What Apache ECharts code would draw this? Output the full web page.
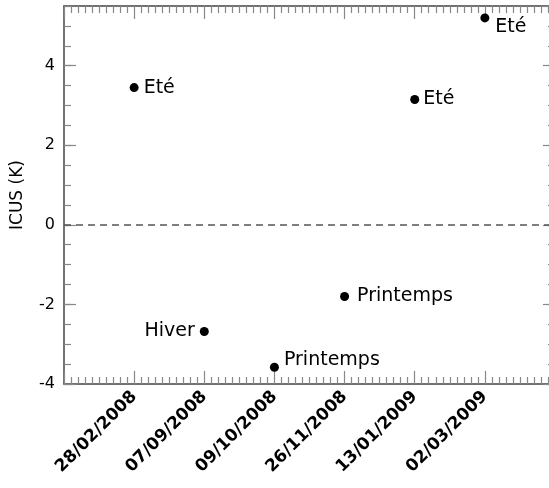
<!DOCTYPE html>
<html><head><meta charset="utf-8">
<script src="https://cdn.jsdelivr.net/npm/echarts@6/dist/echarts.min.js"></script>
<style>html,body{margin:0;padding:0;background:#fff;overflow:hidden;width:549px;height:488px}#c{width:562px;height:488px}</style>
</head><body><div id="c"></div>
<script>
const categories = ['28/02/2008','07/09/2008','09/10/2008','26/11/2008','13/01/2009','02/03/2009'];
const icusValues = [3.45, -2.68, -3.58, -1.8, 3.15, 5.2];
const seasons = ['Eté','Hiver','Printemps','Printemps','Eté','Eté'];
const yTickLabels = [-4, -2, 0, 2, 4];

const FONT = 'DejaVu Sans';
const axisLineStyle = {color:'#444', width:1.5};
const tickStyle = {color:'#888', width:1.2};

function xAx(pos, showLabel){
  return {type:'value', min:0, max:7, interval:1, position:pos,
    axisLine:{show:true, onZero:false, lineStyle:axisLineStyle},
    axisTick:{show:true, inside:true, length:13, lineStyle:tickStyle},
    minorTick:{show:true, splitNumber:10, length:7, lineStyle:tickStyle},
    splitLine:{show:false}, minorSplitLine:{show:false},
    axisLabel:{show:showLabel, rotate:45, margin:10, color:'#000', fontFamily:FONT, fontSize:17, fontWeight:'bold',
      formatter: v => { const i = Math.round(v); return (i>=1 && i<=categories.length) ? categories[i-1] : ''; }}
  };
}
function yMajor(pos, showLabel){
  return {type:'value', min:-4, max:5.5, interval:2, position:pos,
    axisLine:{show:true, onZero:false, lineStyle:axisLineStyle},
    axisTick:{show:true, inside:true, length:12, lineStyle:tickStyle},
    splitLine:{show:false},
    name: showLabel ? 'ICUS (K)' : '', nameLocation:'middle', nameGap:38, nameRotate:90,
    nameTextStyle:{fontFamily:FONT, fontSize:17, color:'#000'},
    axisLabel:{show:showLabel, showMaxLabel:false, margin:9, color:'#000', fontFamily:FONT, fontSize:16,
      formatter: v => yTickLabels.indexOf(v) >= 0 ? String(v) : ''}
  };
}
function yMinor(pos){
  return {type:'value', min:-4, max:5.5, interval:0.5, position:pos,
    axisLine:{show:false, onZero:false},
    axisTick:{show:true, inside:true, length:7, lineStyle:tickStyle},
    splitLine:{show:false}, axisLabel:{show:false}
  };
}

const labelStyles = [
  {position:'right', distance:5},
  {position:'left', distance:5},
  {position:'right', distance:5, offset:[0,-7]},
  {position:'right', distance:8},
  {position:'right', distance:4},
  {position:'right', distance:6, offset:[0,9]}
];

const chart = echarts.init(document.getElementById('c'), null, {renderer:'canvas'});
chart.setOption({
  animation:false,
  backgroundColor:'#fff',
  grid:{left:64, right:7, top:6, bottom:104, containLabel:false},
  xAxis:[xAx('bottom', true), xAx('top', false)],
  yAxis:[yMajor('left', true), yMinor('left'), yMajor('right', false), yMinor('right')],
  series:[{
    type:'scatter', xAxisIndex:0, yAxisIndex:0, symbolSize:9,
    itemStyle:{color:'#000', opacity:1},
    data: icusValues.map((v,i) => ({
      value:[i+1, v],
      label:Object.assign({show:true, formatter:seasons[i], color:'#000', fontFamily:FONT, fontSize:19}, labelStyles[i])
    })),
    markLine:{silent:true, symbol:'none', label:{show:false},
      lineStyle:{type:[7,5], color:'#555', width:1.5},
      data:[{yAxis:0}]}
  }]
});
</script></body></html>
